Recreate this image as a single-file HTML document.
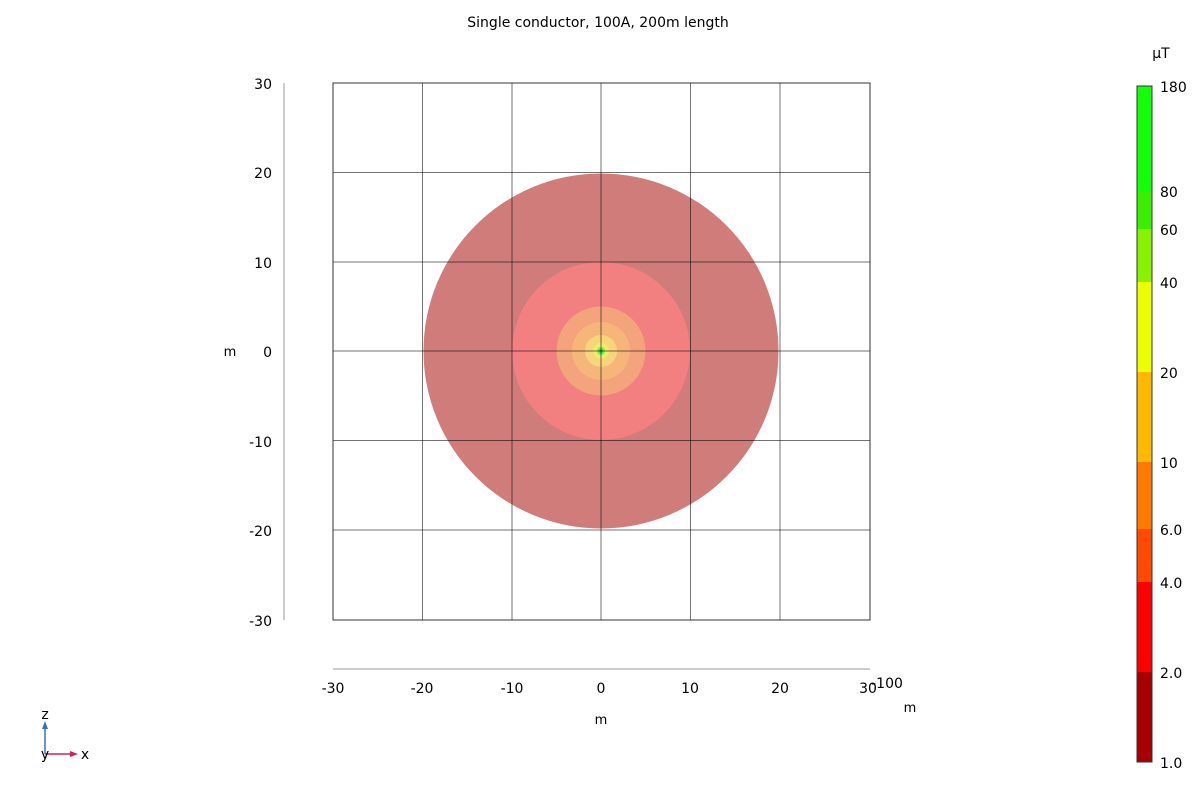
<!DOCTYPE html>
<html><head><meta charset="utf-8"><style>
body{margin:0;background:#fff;width:1200px;height:800px;overflow:hidden;font-family:"Liberation Sans","DejaVu Sans",sans-serif}
</style></head><body>
<svg width="1200" height="800" xmlns="http://www.w3.org/2000/svg" font-family="DejaVu Sans, Liberation Sans, sans-serif" font-size="14">
<text x="598" y="27" text-anchor="middle" font-size="14">Single conductor, 100A, 200m length</text>
<circle cx="601" cy="351" r="177.5" fill="#cf7c7a"/>
<circle cx="601" cy="351" r="89" fill="#f28080"/>
<circle cx="601" cy="351" r="44.5" fill="#f4a47c"/>
<circle cx="601" cy="351" r="29" fill="#f6b67a"/>
<circle cx="601" cy="351" r="16" fill="#f8d47a"/>
<circle cx="601" cy="351" r="8" fill="#eeec6c"/>
<circle cx="601" cy="351" r="4" fill="#7fe855"/>
<circle cx="601" cy="351" r="2" fill="#20dd50"/>
<g stroke="#000" stroke-opacity="0.55" stroke-width="1">
<line x1="422.5" y1="83" x2="422.5" y2="620"/><line x1="512" y1="83" x2="512" y2="620"/><line x1="601" y1="83" x2="601" y2="620"/><line x1="690.5" y1="83" x2="690.5" y2="620"/><line x1="780" y1="83" x2="780" y2="620"/>
<line x1="333" y1="172.5" x2="870" y2="172.5"/><line x1="333" y1="262" x2="870" y2="262"/><line x1="333" y1="351" x2="870" y2="351"/><line x1="333" y1="440.5" x2="870" y2="440.5"/><line x1="333" y1="530" x2="870" y2="530"/>
</g>
<rect x="333" y="83" width="537" height="537" fill="none" stroke="#333"/>
<line x1="284" y1="83" x2="284" y2="620" stroke="#999"/>
<line x1="333" y1="669" x2="870" y2="669" stroke="#999"/>
<g text-anchor="end">
<text x="272" y="89">30</text><text x="272" y="178">20</text><text x="272" y="268">10</text><text x="272" y="357">0</text><text x="272" y="447">-10</text><text x="272" y="536">-20</text><text x="272" y="626">-30</text>
</g>
<text x="230" y="356" text-anchor="middle" font-size="13">m</text>
<g text-anchor="middle">
<text x="333" y="693">-30</text><text x="422" y="693">-20</text><text x="512" y="693">-10</text><text x="601" y="693">0</text><text x="690" y="693">10</text><text x="780" y="693">20</text><text x="868" y="693">30</text>
</g>
<text x="887" y="688" text-anchor="middle">-100</text>
<text x="601" y="724" text-anchor="middle" font-size="13">m</text>
<text x="910" y="712" text-anchor="middle" font-size="13">m</text>
<text x="1161" y="58" text-anchor="middle">μT</text>
<rect x="1137" y="86" width="15" height="106" fill="#14ff0a"/>
<rect x="1137" y="192" width="15" height="37" fill="#3af000"/>
<rect x="1137" y="229" width="15" height="53" fill="#88f200"/>
<rect x="1137" y="282" width="15" height="90" fill="#eaff00"/>
<rect x="1137" y="372" width="15" height="90" fill="#ffb800"/>
<rect x="1137" y="462" width="15" height="67" fill="#ff7a00"/>
<rect x="1137" y="529" width="15" height="53" fill="#ff4a00"/>
<rect x="1137" y="582" width="15" height="90" fill="#ff0000"/>
<rect x="1137" y="672" width="15" height="90" fill="#a80000"/>
<rect x="1137" y="86" width="15" height="676" fill="none" stroke="#333"/>
<g>
<text x="1160" y="92">180</text><text x="1160" y="197">80</text><text x="1160" y="235">60</text><text x="1160" y="288">40</text><text x="1160" y="378">20</text><text x="1160" y="468">10</text><text x="1160" y="535">6.0</text><text x="1160" y="588">4.0</text><text x="1160" y="678">2.0</text><text x="1160" y="768">1.0</text>
</g>
<line x1="45" y1="754" x2="45" y2="726" stroke="#3a6fc0" stroke-width="1.5"/>
<polygon points="45,721 42,729 48,729" fill="#3a6fc0"/>
<line x1="45" y1="754" x2="72" y2="754" stroke="#d0205a" stroke-width="1.5"/>
<polygon points="78,754 70,751 70,757" fill="#d0205a"/>
<text x="45" y="719" text-anchor="middle">z</text>
<text x="45" y="759" text-anchor="middle">y</text>
<text x="85" y="759" text-anchor="middle">x</text>
</svg>
</body></html>
